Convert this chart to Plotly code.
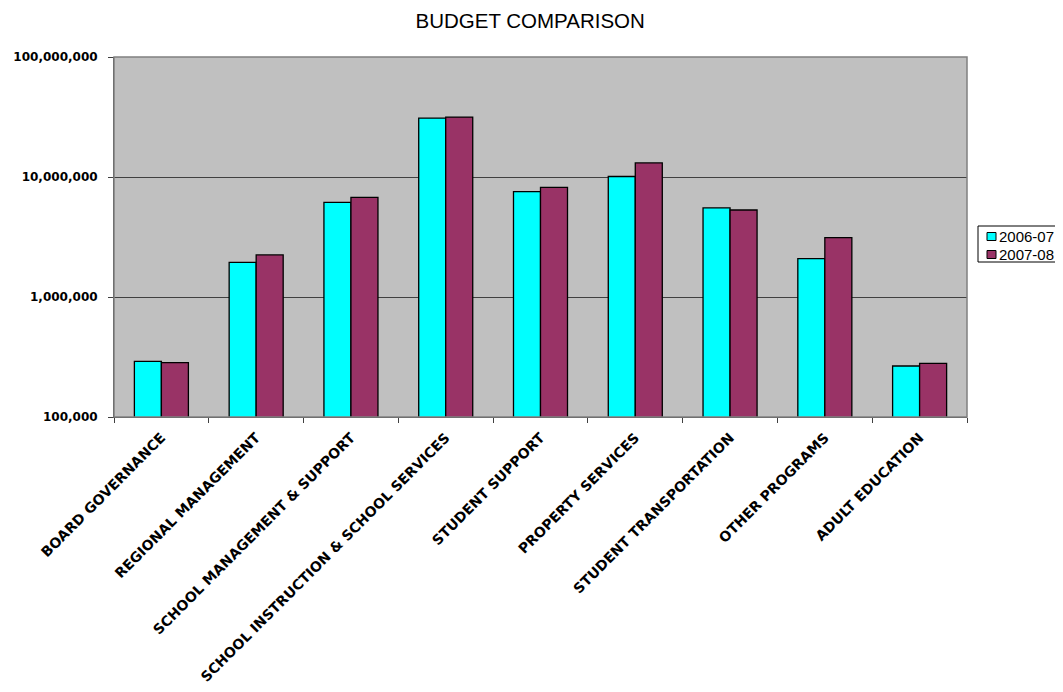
import plotly.graph_objects as go

categories = ["BOARD GOVERNANCE", "REGIONAL MANAGEMENT", "SCHOOL MANAGEMENT & SUPPORT",
              "SCHOOL INSTRUCTION & SCHOOL SERVICES", "STUDENT SUPPORT", "PROPERTY SERVICES",
              "STUDENT TRANSPORTATION", "OTHER PROGRAMS", "ADULT EDUCATION"]
series_names = ["2006-07", "2007-08"]
budget_2006_07 = [291000, 1940000, 6150000, 31000000, 7550000, 10100000, 5520000, 2090000, 266000]
budget_2007_08 = [284000, 2240000, 6770000, 31600000, 8200000, 13100000, 5310000, 3130000, 280000]
y_ticks = [100000, 1000000, 10000000, 100000000]
y_tick_labels = ["100,000", "1,000,000", "10,000,000", "100,000,000"]

colors = ["#00FFFF", "#993366"]
SANS = "Liberation Sans, Arial, sans-serif"
BOLD = "DejaVu Sans, sans-serif"

# figure geometry (page has an 8px body offset)
W, H = 1055, 684
ML, MT, PW, PH = 106, 49, 853, 360


def px(fx):
    return (fx - ML) / PW


def py(fy):
    return 1 - (fy - MT) / PH


fig = go.Figure()
for name, vals, col in zip(series_names, [budget_2006_07, budget_2007_08], colors):
    fig.add_trace(go.Bar(name=name, x=categories, y=vals,
                         marker=dict(color=col, line=dict(color="#000000", width=1.3))))

# manual legend (box, swatches, labels)
shapes = [dict(type="rect", xref="paper", yref="paper", x0=0, x1=1, y0=0, y1=1,
               line=dict(color="#808080", width=1.5), fillcolor="rgba(0,0,0,0)", layer="above"),
          dict(type="rect", xref="paper", yref="paper", x0=px(970), x1=px(1052), y0=py(254), y1=py(218),
               line=dict(color="black", width=1), fillcolor="white")]
annotations = []
for i, (name, col) in enumerate(zip(series_names, colors)):
    cy = 228.5 + 18 * i
    shapes.append(dict(type="rect", xref="paper", yref="paper", x0=px(979), x1=px(988),
                       y0=py(cy + 4), y1=py(cy - 4), line=dict(color="black", width=1), fillcolor=col))
    annotations.append(dict(text=name, xref="paper", yref="paper", x=px(989), y=py(cy),
                            xanchor="left", yanchor="middle", showarrow=False,
                            font=dict(family=SANS, size=15, color="black")))

fig.update_layout(
    width=W, height=H,
    paper_bgcolor="white", plot_bgcolor="#C0C0C0",
    margin=dict(l=ML, r=W - ML - PW, t=MT, b=H - MT - PH, pad=0, autoexpand=False),
    barmode="group", bargap=0.43, bargroupgap=0,
    title=dict(text="BUDGET COMPARISON", x=0.495, xanchor="center", y=1 - 12.5 / H, yanchor="middle",
               font=dict(family=SANS, size=20.5, color="black")),
    font=dict(family=SANS, color="black"),
    showlegend=False,
    shapes=shapes,
    annotations=annotations,
    xaxis=dict(tickangle=-45, tickfont=dict(family=BOLD, size=14, color="black", weight="bold"),
               showline=True, linecolor="#404040", linewidth=1, mirror=False, automargin=False,
               ticks="outside", tickson="boundaries", ticklen=5, tickcolor="#404040",
               ticklabelstandoff=6, showgrid=False),
    yaxis=dict(type="log", range=[5, 8], tickvals=y_ticks, ticktext=y_tick_labels,
               tickfont=dict(family=BOLD, size=12, color="black", weight="bold"),
               showline=True, linecolor="#404040", linewidth=1, automargin=False,
               ticks="outside", ticklen=5, tickcolor="#404040", ticklabelstandoff=8,
               showgrid=True, gridcolor="#404040", gridwidth=1, zeroline=False),
)

fig.write_html("out.html")
